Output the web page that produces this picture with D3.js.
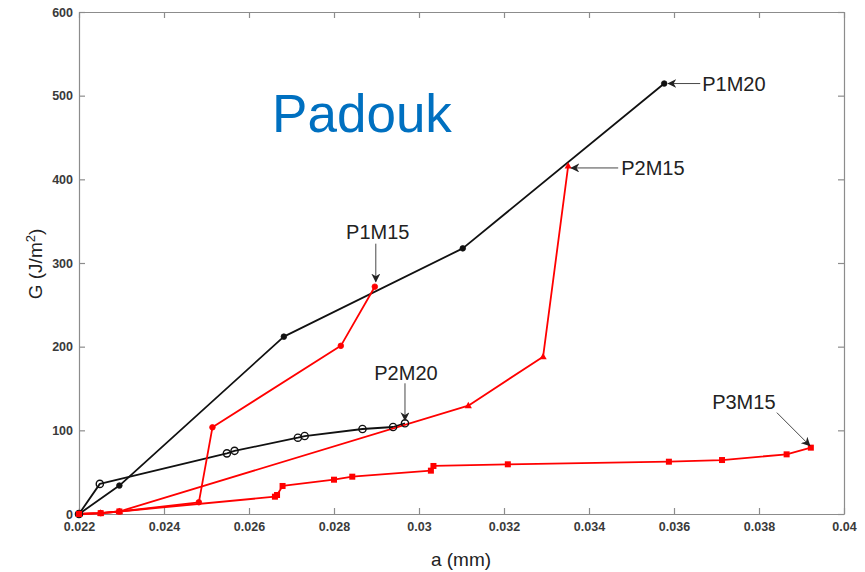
<!DOCTYPE html>
<html>
<head>
<meta charset="utf-8">
<script src="https://cdn.jsdelivr.net/npm/d3@7/dist/d3.min.js"></script>
<style>
  html, body { margin: 0; padding: 0; background: #fff; }
  svg { display: block; font-family: "Liberation Sans", Arial, sans-serif; }
</style>
</head>
<body>
<svg id="chart" width="865" height="572"></svg>
<script>
// Crack length a (mm) and energy release rate G (J/m^2) for each specimen
const p1m20A = [0.022, 0.02295, 0.02682, 0.03103, 0.03577];
const p1m20G = [0, 34, 212, 317.5, 514.5];

const p2m20A = [0.022, 0.02249, 0.02548, 0.02566, 0.02715, 0.02731, 0.02867, 0.02939, 0.02967];
const p2m20G = [0, 36, 72.5, 75.5, 91.2, 93.2, 101.6, 104, 108.4];

const p1m15A = [0.022, 0.02251, 0.02295, 0.02482, 0.02514, 0.02816, 0.02896];
const p1m15G = [0, 1, 3, 14, 103.6, 201, 271.7];

const p2m15A = [0.022, 0.02251, 0.02295, 0.03116, 0.03292, 0.03351];
const p2m15G = [0, 1, 3, 129.5, 188, 416];

const p3m15A = [0.022, 0.02251, 0.02295, 0.02661, 0.02666, 0.02679, 0.028, 0.02843, 0.03028, 0.03034, 0.03209, 0.03588, 0.03713, 0.03865, 0.03922];
const p3m15G = [0, 1, 3, 20.7, 22.7, 33.5, 41, 44.6, 51.8, 57.4, 59.4, 62.5, 64.5, 71.3, 79.3];

const xTicks = [0.022, 0.024, 0.026, 0.028, 0.03, 0.032, 0.034, 0.036, 0.038, 0.04];
const xTickLabels = ["0.022", "0.024", "0.026", "0.028", "0.03", "0.032", "0.034", "0.036", "0.038", "0.04"];
const yTicks = [0, 100, 200, 300, 400, 500, 600];
const yTickLabels = ["0", "100", "200", "300", "400", "500", "600"];

const seriesNames = ["P1M20", "P2M20", "P1M15", "P2M15", "P3M15"];

const zip = (a, g) => a.map((v, i) => ({ a: v, g: g[i] }));
const series = [
  { name: "P1M20", pts: zip(p1m20A, p1m20G), color: "#111", marker: "dot" },
  { name: "P2M20", pts: zip(p2m20A, p2m20G), color: "#111", marker: "ring" },
  { name: "P1M15", pts: zip(p1m15A, p1m15G), color: "#ff0000", marker: "dot" },
  { name: "P2M15", pts: zip(p2m15A, p2m15G), color: "#ff0000", marker: "tri" },
  { name: "P3M15", pts: zip(p3m15A, p3m15G), color: "#ff0000", marker: "sq" }
];

const svg = d3.select("#chart");
const L = 79, R = 844, T = 12, B = 514;

const x = d3.scaleLinear().domain([0.022, 0.04]).range([L, R]);
const y = d3.scaleLinear().domain([0, 600]).range([B, T]);

const axisColor = "#8c8c8c";
const labelColor = "#3a3a3a";

function styleAxis(g) {
  g.selectAll("path.domain").attr("stroke", axisColor).attr("stroke-width", 1.2);
  g.selectAll(".tick line").attr("stroke", axisColor).attr("stroke-width", 1.2);
  g.selectAll(".tick text")
    .attr("fill", labelColor)
    .attr("font-size", 12.5)
    .attr("font-weight", "bold")
    .attr("font-family", "'Liberation Sans', Arial, sans-serif");
}

// bottom and left axes with labels, ticks pointing into the plot box
svg.append("g")
  .attr("transform", `translate(0,${B})`)
  .call(d3.axisBottom(x).tickValues(xTicks)
    .tickFormat((d, i) => xTickLabels[i])
    .tickSizeInner(-6).tickSizeOuter(0).tickPadding(8))
  .call(styleAxis);

svg.append("g")
  .attr("transform", `translate(${L},0)`)
  .call(d3.axisLeft(y).tickValues(yTicks)
    .tickFormat((d, i) => yTickLabels[i])
    .tickSizeInner(-6).tickSizeOuter(0).tickPadding(6))
  .call(styleAxis);

// top and right edges of the box
svg.append("g")
  .attr("transform", `translate(0,${T})`)
  .call(d3.axisTop(x).tickValues(xTicks).tickFormat("")
    .tickSizeInner(-6).tickSizeOuter(0))
  .call(styleAxis);

svg.append("g")
  .attr("transform", `translate(${R},0)`)
  .call(d3.axisRight(y).tickValues(yTicks).tickFormat("")
    .tickSizeInner(-6).tickSizeOuter(0))
  .call(styleAxis);

// axis titles
svg.append("text")
  .attr("x", 461).attr("y", 566)
  .attr("text-anchor", "middle")
  .attr("font-size", 19)
  .attr("fill", "#222")
  .text("a (mm)");

const yTitle = svg.append("text")
  .attr("transform", "translate(42,264) rotate(-90)")
  .attr("text-anchor", "middle")
  .attr("font-size", 19)
  .attr("fill", "#222");
yTitle.append("tspan").text("G (J/m");
yTitle.append("tspan").attr("font-size", 13).attr("dy", -7).text("2");
yTitle.append("tspan").attr("dy", 7).text(")");

// chart title
svg.append("text")
  .attr("x", 362).attr("y", 131.5)
  .attr("text-anchor", "middle")
  .attr("font-size", 53)
  .attr("fill", "#0070c0")
  .text("Padouk");

// series lines
const line = d3.line().x(d => x(d.a)).y(d => y(d.g));
const plot = svg.append("g");

series.forEach(s => {
  plot.append("path")
    .datum(s.pts)
    .attr("fill", "none")
    .attr("stroke", s.color)
    .attr("stroke-width", 1.8)
    .attr("stroke-linejoin", "round")
    .attr("d", line);
});

// markers
series.forEach(s => {
  const g = plot.append("g");
  s.pts.forEach(p => {
    const cx = x(p.a), cy = y(p.g);
    if (s.marker === "ring") {
      g.append("circle").attr("cx", cx).attr("cy", cy).attr("r", 3.6)
        .attr("fill", "none").attr("stroke", s.color).attr("stroke-width", 1.4);
    } else if (s.marker === "dot") {
      g.append("circle").attr("cx", cx).attr("cy", cy).attr("r", 2.8)
        .attr("fill", s.color).attr("stroke", s.color).attr("stroke-width", 0.8);
    } else if (s.marker === "sq") {
      g.append("rect").attr("x", cx - 3).attr("y", cy - 3)
        .attr("width", 6).attr("height", 6).attr("fill", s.color);
    } else if (s.marker === "tri") {
      g.append("path")
        .attr("d", `M${cx},${cy - 3.8}L${cx + 3.6},${cy + 2.6}L${cx - 3.6},${cy + 2.6}Z`)
        .attr("fill", s.color);
    }
  });
});

// callouts: each arrow points at the last point of its series
const defs = svg.append("defs");
defs.append("marker")
  .attr("id", "head")
  .attr("viewBox", "0 0 10 10")
  .attr("refX", 9).attr("refY", 5)
  .attr("markerWidth", 9).attr("markerHeight", 9)
  .attr("markerUnits", "userSpaceOnUse")
  .attr("orient", "auto")
  .append("path")
  .attr("d", "M0,0L10,5L0,10L3,5Z")
  .attr("fill", "#222");

const callout = {
  P1M20: { tip: [4, 0], tail: [36, 0], text: [38, 0], anchor: "start" },
  P2M15: { tip: [3, 2], tail: [50, 2], text: [53, 2], anchor: "start" },
  P1M15: { tip: [1, -5], tail: [1, -43], text: [3, -55], anchor: "middle" },
  P2M20: { tip: [0, -3], tail: [0, -40], text: [1, -51], anchor: "middle" },
  P3M15: { tip: [-1, -2], tail: [-34, -35], text: [-67, -46], anchor: "middle" }
};

seriesNames.forEach(name => {
  const s = series.find(d => d.name === name);
  const last = s.pts[s.pts.length - 1];
  const px = x(last.a), py = y(last.g);
  const c = callout[name];
  svg.append("line")
    .attr("x1", px + c.tail[0]).attr("y1", py + c.tail[1])
    .attr("x2", px + c.tip[0]).attr("y2", py + c.tip[1])
    .attr("stroke", "#333").attr("stroke-width", 0.9)
    .attr("marker-end", "url(#head)");
  svg.append("text")
    .attr("x", px + c.text[0]).attr("y", py + c.text[1])
    .attr("dy", "0.36em")
    .attr("text-anchor", c.anchor)
    .attr("font-size", 20)
    .attr("fill", "#222")
    .text(name);
});
</script>
</body>
</html>
